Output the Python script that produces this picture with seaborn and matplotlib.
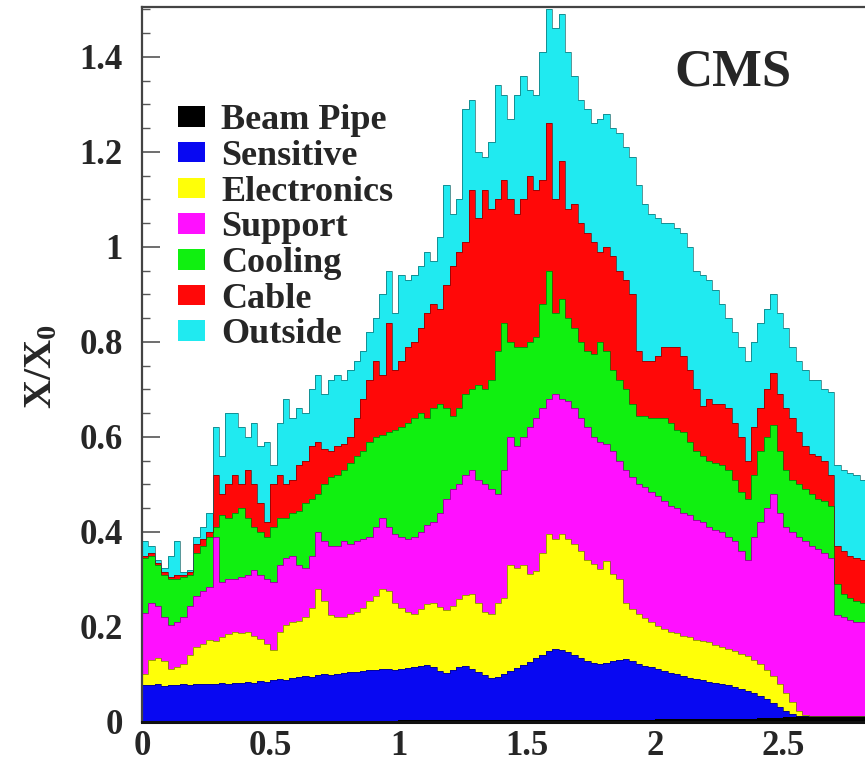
import numpy as np
import pandas as pd
import matplotlib
matplotlib.use("Agg")
import matplotlib.pyplot as plt
from matplotlib.patches import Patch
from matplotlib.ticker import MultipleLocator, FuncFormatter
import seaborn as sns

# ---------------------------------------------------------------
# Tracker material budget X/X0 versus pseudorapidity.
# Bins of width 0.025 in eta starting at 0; each list gives the
# cumulative (stacked) top of a category in that bin.
# ---------------------------------------------------------------
bin_width = 0.025
n_bins = 113

beam_pipe_top = [
    0.003, 0.003, 0.003, 0.003, 0.003, 0.003, 0.003, 0.003, 0.003, 0.003,
    0.003, 0.003, 0.003, 0.003, 0.003, 0.003, 0.003, 0.003, 0.003, 0.003,
    0.003, 0.003, 0.003, 0.003, 0.003, 0.003, 0.003, 0.003, 0.003, 0.003,
    0.003, 0.003, 0.003, 0.003, 0.003, 0.003, 0.003, 0.003, 0.003, 0.003,
    0.004, 0.004, 0.004, 0.004, 0.004, 0.004, 0.004, 0.004, 0.004, 0.004,
    0.004, 0.004, 0.004, 0.004, 0.004, 0.004, 0.004, 0.004, 0.004, 0.004,
    0.005, 0.005, 0.005, 0.005, 0.005, 0.005, 0.005, 0.005, 0.005, 0.005,
    0.005, 0.005, 0.005, 0.005, 0.005, 0.005, 0.005, 0.005, 0.005, 0.005,
    0.007, 0.007, 0.007, 0.007, 0.007, 0.007, 0.007, 0.007, 0.007, 0.007,
    0.007, 0.007, 0.007, 0.007, 0.007, 0.007, 0.009, 0.009, 0.009, 0.009,
    0.010, 0.011, 0.012, 0.012, 0.013, 0.013, 0.013, 0.013, 0.013, 0.013,
    0.013, 0.013, 0.013,
]

sensitive_top = [
    0.078, 0.077, 0.079, 0.076, 0.078, 0.077, 0.079, 0.078, 0.080, 0.079,
    0.081, 0.080, 0.082, 0.081, 0.083, 0.082, 0.084, 0.083, 0.086, 0.085,
    0.088, 0.090, 0.089, 0.092, 0.094, 0.096, 0.095, 0.098, 0.100, 0.099,
    0.102, 0.104, 0.106, 0.105, 0.108, 0.110, 0.109, 0.111, 0.112, 0.110,
    0.112, 0.114, 0.116, 0.118, 0.120, 0.116, 0.108, 0.104, 0.110, 0.115,
    0.118, 0.112, 0.105, 0.098, 0.093, 0.095, 0.102, 0.108, 0.114, 0.120,
    0.126, 0.134, 0.142, 0.150, 0.154, 0.152, 0.148, 0.140, 0.134, 0.128,
    0.124, 0.122, 0.125, 0.128, 0.130, 0.132, 0.128, 0.122, 0.118, 0.115,
    0.112, 0.108, 0.104, 0.100, 0.096, 0.092, 0.090, 0.088, 0.085, 0.083,
    0.080, 0.078, 0.074, 0.070, 0.066, 0.061, 0.055, 0.048, 0.040, 0.032,
    0.024, 0.016, 0.012, 0.012, 0.013, 0.013, 0.013, 0.013, 0.013, 0.013,
    0.013, 0.013, 0.013,
]

electronics_top = [
    0.100, 0.130, 0.135, 0.128, 0.112, 0.115, 0.122, 0.140, 0.158, 0.165,
    0.172, 0.170, 0.178, 0.185, 0.190, 0.188, 0.190, 0.182, 0.175, 0.165,
    0.152, 0.190, 0.205, 0.210, 0.212, 0.220, 0.240, 0.280, 0.255, 0.225,
    0.220, 0.222, 0.228, 0.232, 0.240, 0.255, 0.265, 0.280, 0.275, 0.250,
    0.240, 0.232, 0.228, 0.238, 0.248, 0.250, 0.242, 0.235, 0.245, 0.258,
    0.268, 0.270, 0.250, 0.232, 0.228, 0.250, 0.262, 0.330, 0.325, 0.330,
    0.312, 0.318, 0.355, 0.395, 0.385, 0.395, 0.385, 0.375, 0.360, 0.342,
    0.332, 0.322, 0.338, 0.312, 0.300, 0.250, 0.238, 0.228, 0.218, 0.210,
    0.202, 0.195, 0.190, 0.188, 0.180, 0.178, 0.172, 0.170, 0.168, 0.162,
    0.158, 0.153, 0.150, 0.143, 0.138, 0.130, 0.122, 0.110, 0.096, 0.080,
    0.062, 0.042, 0.024, 0.014, 0.013, 0.013, 0.013, 0.013, 0.013, 0.013,
    0.013, 0.013, 0.013,
]

support_top = [
    0.230, 0.250, 0.245, 0.220, 0.205, 0.210, 0.220, 0.245, 0.265, 0.275,
    0.285, 0.390, 0.295, 0.300, 0.300, 0.305, 0.310, 0.320, 0.310, 0.300,
    0.295, 0.330, 0.345, 0.350, 0.330, 0.325, 0.350, 0.400, 0.380, 0.370,
    0.370, 0.380, 0.375, 0.380, 0.385, 0.390, 0.410, 0.430, 0.410, 0.395,
    0.390, 0.385, 0.390, 0.400, 0.415, 0.420, 0.440, 0.470, 0.490, 0.500,
    0.520, 0.530, 0.510, 0.500, 0.490, 0.480, 0.530, 0.600, 0.580, 0.600,
    0.620, 0.640, 0.660, 0.680, 0.690, 0.680, 0.675, 0.660, 0.640, 0.620,
    0.600, 0.590, 0.585, 0.570, 0.550, 0.530, 0.515, 0.500, 0.495, 0.485,
    0.475, 0.465, 0.455, 0.450, 0.440, 0.435, 0.425, 0.420, 0.410, 0.405,
    0.400, 0.390, 0.380, 0.360, 0.340, 0.390, 0.420, 0.450, 0.480, 0.440,
    0.410, 0.400, 0.390, 0.380, 0.370, 0.365, 0.355, 0.345, 0.225, 0.220,
    0.215, 0.210, 0.210,
]

cooling_top = [
    0.345, 0.350, 0.330, 0.310, 0.300, 0.300, 0.305, 0.310, 0.355, 0.370,
    0.390, 0.410, 0.435, 0.430, 0.440, 0.450, 0.430, 0.410, 0.400, 0.390,
    0.410, 0.430, 0.430, 0.440, 0.445, 0.460, 0.470, 0.480, 0.500, 0.515,
    0.520, 0.530, 0.545, 0.560, 0.570, 0.590, 0.600, 0.605, 0.610, 0.615,
    0.620, 0.630, 0.640, 0.650, 0.640, 0.660, 0.670, 0.660, 0.645, 0.660,
    0.690, 0.700, 0.710, 0.700, 0.720, 0.780, 0.840, 0.800, 0.790, 0.790,
    0.800, 0.810, 0.880, 0.950, 0.860, 0.890, 0.850, 0.830, 0.800, 0.780,
    0.775, 0.800, 0.780, 0.740, 0.720, 0.700, 0.670, 0.645, 0.645, 0.640,
    0.640, 0.640, 0.630, 0.615, 0.610, 0.590, 0.570, 0.560, 0.550, 0.545,
    0.540, 0.530, 0.510, 0.485, 0.470, 0.520, 0.570, 0.600, 0.625, 0.570,
    0.530, 0.510, 0.500, 0.490, 0.480, 0.470, 0.465, 0.455, 0.290, 0.270,
    0.260, 0.255, 0.250,
]

cable_top = [
    0.350, 0.355, 0.335, 0.315, 0.305, 0.310, 0.310, 0.315, 0.375, 0.385,
    0.400, 0.520, 0.480, 0.500, 0.520, 0.500, 0.530, 0.500, 0.460, 0.420,
    0.500, 0.520, 0.500, 0.510, 0.540, 0.550, 0.580, 0.590, 0.575, 0.570,
    0.580, 0.585, 0.600, 0.640, 0.680, 0.720, 0.760, 0.730, 0.840, 0.740,
    0.760, 0.790, 0.800, 0.830, 0.860, 0.880, 0.870, 0.920, 0.960, 0.990,
    1.010, 1.120, 1.060, 1.120, 1.080, 1.100, 1.140, 1.100, 1.070, 1.100,
    1.150, 1.120, 1.140, 1.260, 1.100, 1.180, 1.080, 1.090, 1.050, 1.030,
    1.010, 0.990, 1.000, 0.980, 0.950, 0.930, 0.900, 0.780, 0.760, 0.760,
    0.770, 0.790, 0.790, 0.790, 0.770, 0.740, 0.700, 0.665, 0.680, 0.670,
    0.670, 0.660, 0.630, 0.600, 0.550, 0.620, 0.660, 0.700, 0.735, 0.690,
    0.660, 0.640, 0.610, 0.580, 0.565, 0.560, 0.550, 0.520, 0.370, 0.360,
    0.350, 0.345, 0.340,
]

outside_top = [
    0.380, 0.370, 0.340, 0.325, 0.350, 0.380, 0.315, 0.320, 0.390, 0.410,
    0.440, 0.620, 0.560, 0.650, 0.650, 0.620, 0.600, 0.630, 0.580, 0.590,
    0.540, 0.630, 0.680, 0.640, 0.660, 0.650, 0.700, 0.730, 0.690, 0.720,
    0.730, 0.720, 0.740, 0.760, 0.780, 0.820, 0.850, 0.900, 0.950, 0.860,
    0.940, 0.930, 0.940, 0.960, 0.990, 0.970, 1.020, 1.130, 1.070, 1.100,
    1.290, 1.310, 1.200, 1.190, 1.220, 1.340, 1.320, 1.270, 1.320, 1.360,
    1.330, 1.320, 1.410, 1.500, 1.460, 1.490, 1.410, 1.360, 1.310, 1.290,
    1.260, 1.270, 1.280, 1.250, 1.240, 1.210, 1.190, 1.130, 1.090, 1.070,
    1.060, 1.050, 1.050, 1.040, 1.030, 1.000, 0.950, 0.940, 0.930, 0.910,
    0.880, 0.850, 0.820, 0.790, 0.760, 0.800, 0.840, 0.870, 0.900, 0.860,
    0.830, 0.790, 0.760, 0.740, 0.720, 0.720, 0.700, 0.695, 0.540, 0.530,
    0.525, 0.520, 0.510,
]

categories = ["Beam Pipe", "Sensitive", "Electronics", "Support",
              "Cooling", "Cable", "Outside"]
category_colors = ["#000000", "#0808f2", "#ffff08", "#ff10ff",
                   "#10f010", "#ff0808", "#20eaf0"]

x_ticks = [0, 0.5, 1, 1.5, 2, 2.5]
y_ticks = [0, 0.2, 0.4, 0.6, 0.8, 1.0, 1.2, 1.4]

# ---------------------------------------------------------------
# Per-category contribution in each bin, in long form
# ---------------------------------------------------------------
eta_max = bin_width * n_bins
edges = np.linspace(0.0, eta_max, n_bins + 1)
centers = 0.5 * (edges[:-1] + edges[1:])
tops = np.vstack([beam_pipe_top, sensitive_top, electronics_top, support_top,
                  cooling_top, cable_top, outside_top])
contrib = np.diff(np.vstack([np.zeros(n_bins), tops]), axis=0).clip(min=0)

df = pd.concat(
    [pd.DataFrame({"eta": centers, "x0": contrib[k], "component": name})
     for k, name in enumerate(categories)],
    ignore_index=True,
)

# ---------------------------------------------------------------
# Style
# ---------------------------------------------------------------
sns.set_style("ticks")
plt.rcParams["font.family"] = ["Liberation Serif", "DejaVu Serif"]
plt.rcParams["font.weight"] = "bold"
plt.rcParams["mathtext.fontset"] = "custom"
plt.rcParams["mathtext.rm"] = "Liberation Serif:bold"
plt.rcParams["mathtext.bf"] = "Liberation Serif:bold"
plt.rcParams["mathtext.it"] = "Liberation Serif:bold"

W, H = 865, 760
fig = plt.figure(figsize=(W / 100, H / 100), dpi=100)
fig.patch.set_facecolor("white")
ax = fig.add_axes([142 / W, 38 / H, 723 / W, 715 / H])

palette = dict(zip(categories, category_colors))
# seaborn stacks the last hue level at the bottom
sns.histplot(data=df, x="eta", weights="x0", hue="component",
             hue_order=categories[::-1], palette=palette,
             multiple="stack", bins=n_bins, binrange=(0.0, eta_max),
             element="step", fill=True,
             alpha=1.0, linewidth=0, legend=False, ax=ax)

# thin darker outlines on the top of each stacked layer
for k, color in enumerate(category_colors):
    rgb = np.array(matplotlib.colors.to_rgb(color)) * 0.45
    ax.stairs(tops[k], edges, baseline=None, color=rgb, lw=0.7,
              alpha=0.7, zorder=1.5)

ax.set_xlim(0, 2.82)
ax.set_ylim(0, 1.505)
ax.set_xlabel("")
ax.set_ylabel(r"X/X$_{\mathbf{0}}$", fontsize=29, fontweight="bold",
              labelpad=0)
ax.yaxis.set_label_coords(-0.113, 0.497)

ax.set_xticks(x_ticks)
ax.set_yticks(y_ticks)
ax.yaxis.set_minor_locator(MultipleLocator(0.05))
fmt = FuncFormatter(lambda v, _: f"{v:g}")
ax.xaxis.set_major_formatter(fmt)
ax.yaxis.set_major_formatter(fmt)
ax.set_axisbelow(True)
ax.tick_params(axis="y", which="major", direction="in", length=13,
               width=1.2, color="#555555", labelsize=25, pad=14)
ax.tick_params(axis="y", which="minor", direction="in", length=6,
               width=1.0, color="#555555")
ax.tick_params(axis="x", which="both", length=0, labelsize=25, pad=6)
ax.tick_params(right=False, top=False)

for side in ("left", "top"):
    ax.spines[side].set_color("#444444")
    ax.spines[side].set_linewidth(1.6)
ax.spines["bottom"].set_color("#111111")
ax.spines["bottom"].set_linewidth(2.2)
ax.spines["right"].set_visible(False)
for s in ax.spines.values():
    s.set_zorder(3)

handles = [Patch(facecolor=c, edgecolor="none") for c in category_colors]
ax.legend(handles, categories, loc="upper left",
          bbox_to_anchor=(0.05, 0.864), frameon=False, fontsize=26,
          handlelength=0.75, handleheight=0.5, handletextpad=0.44,
          labelspacing=0.075, borderpad=0, borderaxespad=0)

ax.text(0.817, 0.909, "CMS", transform=ax.transAxes, ha="center",
        va="center", fontsize=38, fontweight="bold")

fig.savefig("out.png", dpi=100, facecolor="white")
